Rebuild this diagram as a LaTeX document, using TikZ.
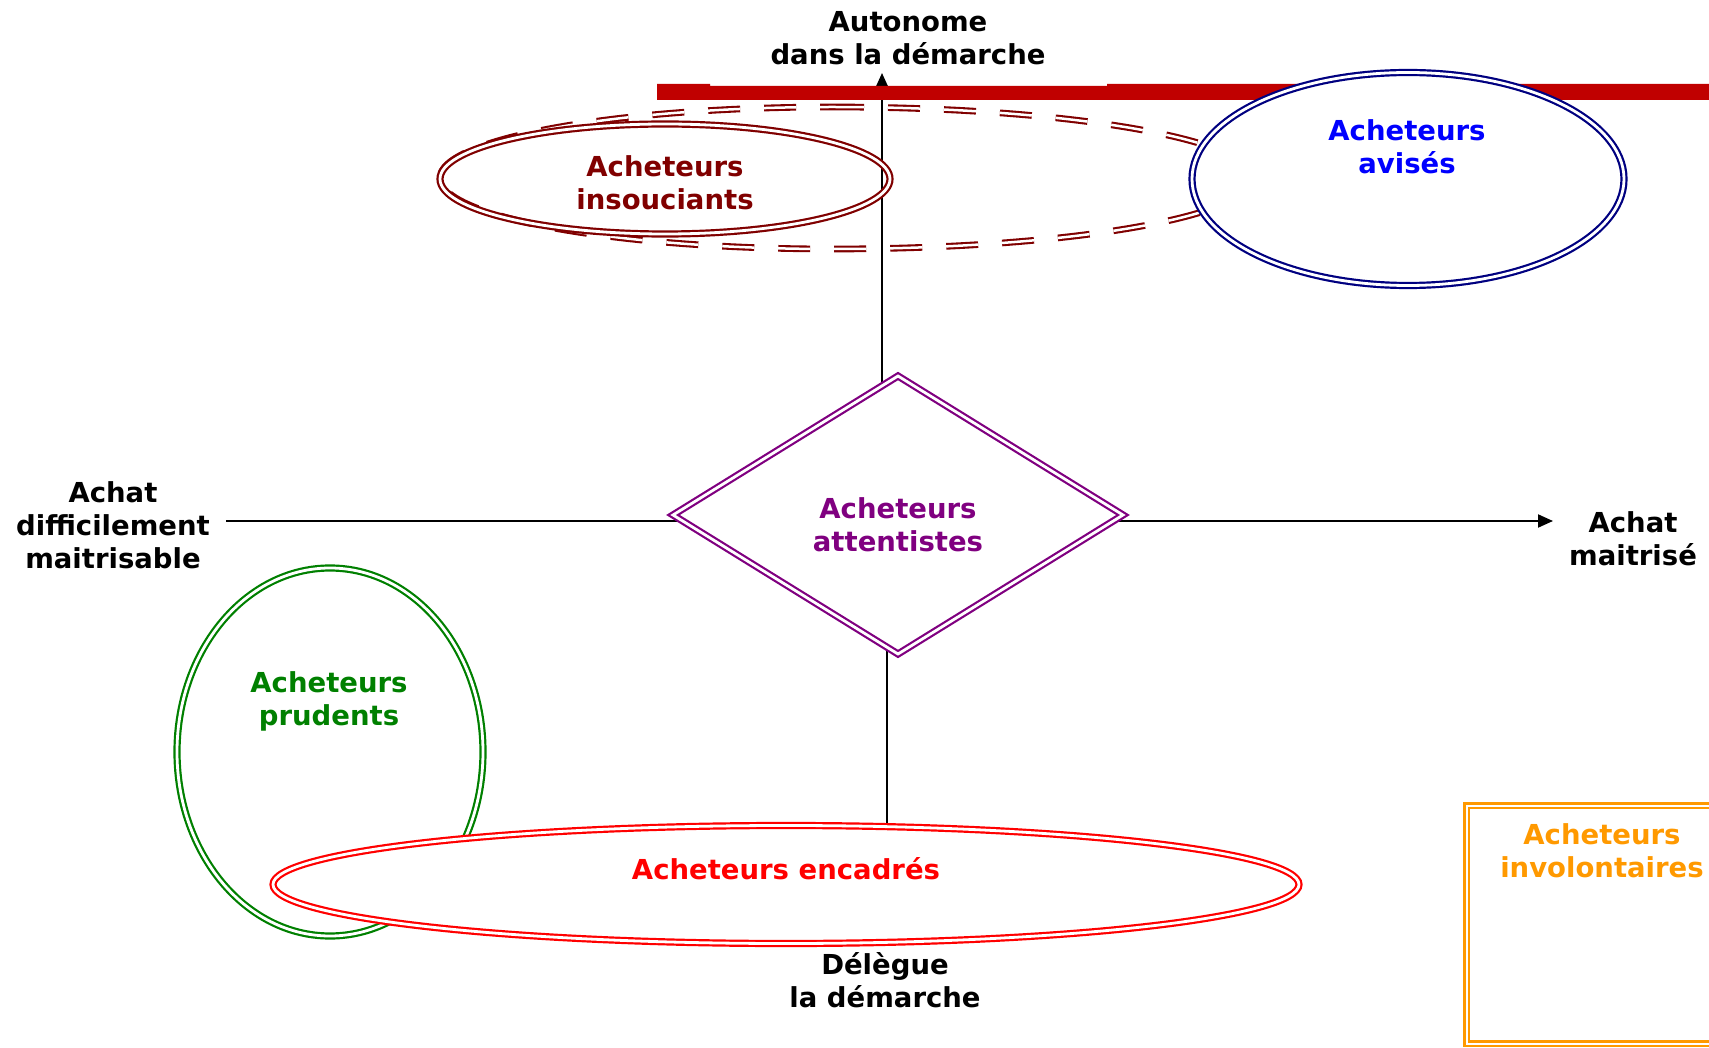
\documentclass[tikz,border=0pt]{standalone}
\usepackage{fontspec}
\setmainfont{DejaVu Sans}
\usetikzlibrary{shapes.geometric,arrows.meta}
\definecolor{barred}{HTML}{C00000}
\definecolor{insred}{HTML}{800000}
\definecolor{navyb}{HTML}{000080}
\definecolor{bluet}{HTML}{0000FF}
\definecolor{purp}{HTML}{800080}
\definecolor{grn}{HTML}{008000}
\definecolor{encred}{HTML}{FF0000}
\definecolor{orng}{HTML}{FF9900}
\begin{document}
\begin{tikzpicture}[x=1pt,y=-1pt,
  lbl/.style={font=\fontsize{27.5pt}{33pt}\selectfont\bfseries, align=center, anchor=base, inner sep=0pt},
  dbl/.style={draw=#1, double=white, double distance=2.8pt, line width=2.2pt},
  dashdbl/.style={draw=insred, double=white, double distance=2.5pt, line width=2.1pt, dash pattern=on 32pt off 24pt},
  axisline/.style={line width=2pt, draw=black},
  arrowhead/.style={-{Triangle[length=15pt,width=13pt]}},
  shp/.style={inner sep=0pt, outer sep=0pt},
]
\useasboundingbox (0,0) rectangle (1709,1048);
\clip (0,0) rectangle (1709,1048);

% axis end points
\coordinate (hl) at (226,521);
\coordinate (hr) at (1553,521);
\coordinate (vt) at (882,73);
\coordinate (vb) at (887,825);

% shapes
\node[shp, diamond, minimum width=450pt, minimum height=278pt] (attD) at (898,515) {};

\draw[axisline] (hl) -- (attD.center |- hl);
\draw[axisline,arrowhead] (attD.center |- hr) -- (hr);
\draw[axisline,arrowhead] (vt |- attD.center) -- (vt);
\draw[axisline] (vb |- attD.center) -- (vb);

% red bar
\fill[barred] (657,84) -- (710,84) -- (710,86) -- (1107,86) -- (1107,84) -- (1720,84) -- (1720,100) -- (657,100) -- cycle;

% dashed zone (egg-like closed curve)
\coordinate (dashTop) at (832,107);
\draw[dashdbl] (dashTop) arc[start angle=90, end angle=-90, x radius=421pt, y radius=71pt]
  arc[start angle=-90, end angle=-270, x radius=392pt, y radius=71pt] -- cycle;

% insouciants
\node[shp, ellipse, dbl=insred, minimum width=450pt, minimum height=110pt] (insE) at (665,179) {};
% avises
\node[shp, ellipse, dbl=navyb, fill=white, minimum width=432pt, minimum height=213pt] (aviE) at (1408,179) {};
% attentistes diamond
\node[shp, diamond, dbl=purp, fill=white, minimum width=450pt, minimum height=278pt] at (attD.center) {};
% prudents
\node[shp, ellipse, dbl=grn, minimum width=306pt, minimum height=368pt] (pruE) at (330,752) {};
% encadres
\node[shp, ellipse, dbl=encred, fill=white, minimum width=1026pt, minimum height=118pt] (encE) at (786,884.5) {};
% involontaires
\node[shp, rectangle, draw=orng, double=white, double distance=2pt, line width=2.5pt, minimum width=264pt, minimum height=238pt] (invR) at (1598.5,924.5) {};

% labels (anchor base = baseline of the last line)
\node[lbl] (autoT) at (908,65) {Autonome\\dans la démarche};
\node[lbl, text=insred] (insT) at (665,210) {Acheteurs\\insouciants};
\node[lbl, text=bluet] (aviT) at (1407,174) {Acheteurs\\avisés};
\node[lbl, text=purp] (attT) at (898,551) {Acheteurs\\attentistes};
\node[lbl, text=grn] (pruT) at (329,725) {Acheteurs\\prudents};
\node[lbl, text=encred] (encT) at (786,879) {Acheteurs encadrés};
\node[lbl] (delT) at (885,1007) {Délègue\\la démarche};
\node[lbl] (diffT) at (113,568) {Achat\\difficilement\\maitrisable};
\node[lbl] (maitT) at (1633,565) {Achat\\maitrisé};
\node[lbl, text=orng] (invT) at (1602,877) {Acheteurs\\involontaires};
\end{tikzpicture}
\end{document}
